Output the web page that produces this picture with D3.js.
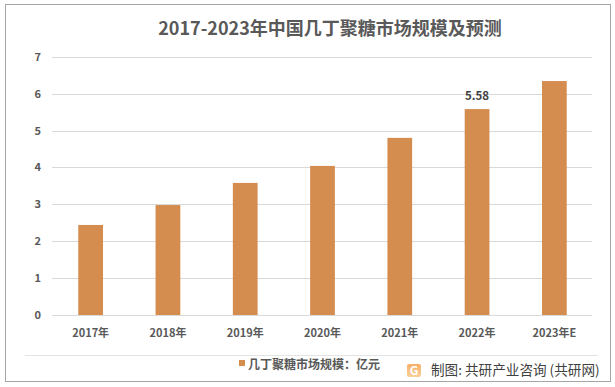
<!DOCTYPE html>
<html>
<head>
<meta charset="utf-8">
<script src="https://cdn.jsdelivr.net/npm/d3@7"></script>
<style>
  body { margin: 0; background: #fff; }
  text { font-family: "Noto Sans CJK SC", "Noto Sans", sans-serif; }
</style>
</head>
<body>
<svg width="615" height="387"></svg>
<script>
// chitosan market size 2017-2023E (100 million yuan)
var years = ["2017年", "2018年", "2019年", "2020年", "2021年", "2022年", "2023年E"];
var marketSize = [2.44, 2.98, 3.58, 4.04, 4.80, 5.58, 6.34];
var yTicks = [0, 1, 2, 3, 4, 5, 6, 7];
var labelled = ["2022年"];

var svg = d3.select("svg");

// outer frame
svg.append("rect")
    .attr("x", 5.5).attr("y", 4.5)
    .attr("width", 605).attr("height", 377)
    .attr("fill", "#fff")
    .attr("stroke", "#a6a6a6");

svg.append("text")
    .attr("x", 330).attr("y", 35)
    .attr("text-anchor", "middle")
    .attr("font-size", 18)
    .attr("font-weight", "bold")
    .attr("fill", "#595959")
    .text("2017-2023年中国几丁聚糖市场规模及预测");

var x = d3.scaleBand()
    .domain(years)
    .range([52, 593])
    .paddingInner(0.68)
    .paddingOuter(0.34);

var y = d3.scaleLinear()
    .domain([0, 7])
    .range([315, 56.7]);

// gridlines
svg.selectAll("line.grid")
    .data(yTicks)
    .enter()
    .append("line")
    .attr("class", "grid")
    .attr("x1", 52).attr("x2", 592)
    .attr("y1", function(d) { return Math.round(y(d)) + 0.5; })
    .attr("y2", function(d) { return Math.round(y(d)) + 0.5; })
    .attr("stroke", "#d9d9d9")
    .attr("stroke-width", 1);

svg.selectAll("text.ytick")
    .data(yTicks)
    .enter()
    .append("text")
    .attr("class", "ytick")
    .attr("x", 41)
    .attr("y", function(d) { return y(d) + 4; })
    .attr("text-anchor", "end")
    .attr("font-size", 11)
    .attr("font-weight", "bold")
    .attr("fill", "#595959")
    .text(function(d) { return d; });

svg.selectAll("rect.bar")
    .data(marketSize)
    .enter()
    .append("rect")
    .attr("class", "bar")
    .attr("x", function(d, i) { return x(years[i]); })
    .attr("y", function(d) { return y(d); })
    .attr("width", x.bandwidth())
    .attr("height", function(d) { return y(0) - y(d); })
    .attr("fill", "#d48c4f");

svg.selectAll("text.xtick")
    .data(years)
    .enter()
    .append("text")
    .attr("class", "xtick")
    .attr("x", function(d) { return x(d) + x.bandwidth() / 2; })
    .attr("y", 337)
    .attr("text-anchor", "middle")
    .attr("font-size", 11)
    .attr("font-weight", "bold")
    .attr("fill", "#595959")
    .text(function(d) { return d; });

// value label on 2022 only
svg.selectAll("text.val")
    .data(marketSize.filter(function(d, i) { return labelled.indexOf(years[i]) >= 0; }))
    .enter()
    .append("text")
    .attr("class", "val")
    .attr("x", function(d) { return x(years[marketSize.indexOf(d)]) + x.bandwidth() / 2; })
    .attr("y", function(d) { return y(d) - 9; })
    .attr("text-anchor", "middle")
    .attr("font-size", 11.5)
    .attr("font-weight", "bold")
    .attr("fill", "#404040")
    .text(function(d) { return d.toFixed(2); });

// legend area
svg.append("line")
    .attr("x1", 25).attr("x2", 598)
    .attr("y1", 355.5).attr("y2", 355.5)
    .attr("stroke", "#e3e3e3");

svg.append("rect")
    .attr("x", 239).attr("y", 360)
    .attr("width", 6).attr("height", 6)
    .attr("fill", "#d48c4f");

svg.append("text")
    .attr("x", 248).attr("y", 368.5)
    .attr("font-size", 12)
    .attr("font-weight", "bold")
    .attr("fill", "#595959")
    .text("几丁聚糖市场规模：亿元");

// source logo
var logo = svg.append("g").attr("transform", "translate(407,364)");
var grad = svg.append("defs").append("linearGradient")
    .attr("id", "lg").attr("x1", 0).attr("y1", 0).attr("x2", 0).attr("y2", 1);
grad.append("stop").attr("offset", "0%").attr("stop-color", "#f6a04d");
grad.append("stop").attr("offset", "100%").attr("stop-color", "#f7c98a");
logo.append("rect")
    .attr("width", 14).attr("height", 13).attr("rx", 2)
    .attr("fill", "url(#lg)").attr("opacity", 0.85);
logo.append("text")
    .attr("x", 7).attr("y", 11)
    .attr("text-anchor", "middle")
    .attr("font-size", 12)
    .attr("font-weight", "bold")
    .attr("fill", "#fff")
    .text("G");

svg.append("text")
    .attr("x", 431).attr("y", 375)
    .attr("font-size", 13.6)
    .attr("fill", "#404040")
    .text("制图: 共研产业咨询 (共研网)");
</script>
</body>
</html>
